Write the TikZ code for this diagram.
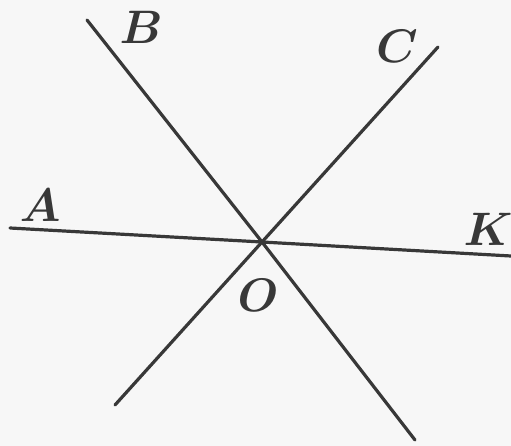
\documentclass[tikz,border=0pt]{standalone}
\usepackage{fix-cm}
\begin{document}
\begin{tikzpicture}[x=1pt,y=-1pt,
  ln/.style={line width=3.2pt,draw=black!78,line cap=round},
  lbl/.style={inner sep=0pt,font=\fontsize{47}{50}\selectfont\boldmath,text=black!78}]
\fill[black!3] (0,0) rectangle (511,446);
\useasboundingbox (0,0) rectangle (511,446);
\coordinate (O) at (262,242);
\coordinate (A) at (10,228);
\coordinate (K) at (511,256);
\coordinate (Bend) at (87,20);
\coordinate (Bl) at (415,440);
\coordinate (Cend) at (438,47);
\coordinate (Cl) at (115,405);
\draw[ln] (A) -- (O) -- (K);
\draw[ln] (Bend) -- (O) -- (Bl);
\draw[ln] (Cend) -- (O) -- (Cl);
\node[lbl] (lB) at (141,27) {$B$};
\node[lbl] (lC) at (397,46) {$C$};
\node[lbl] (lA) at (40,205) {$A$};
\node[lbl] (lK) at (488,229) {$K$};
\node[lbl] (lO) at (258,295) {$O$};
\end{tikzpicture}
\end{document}
